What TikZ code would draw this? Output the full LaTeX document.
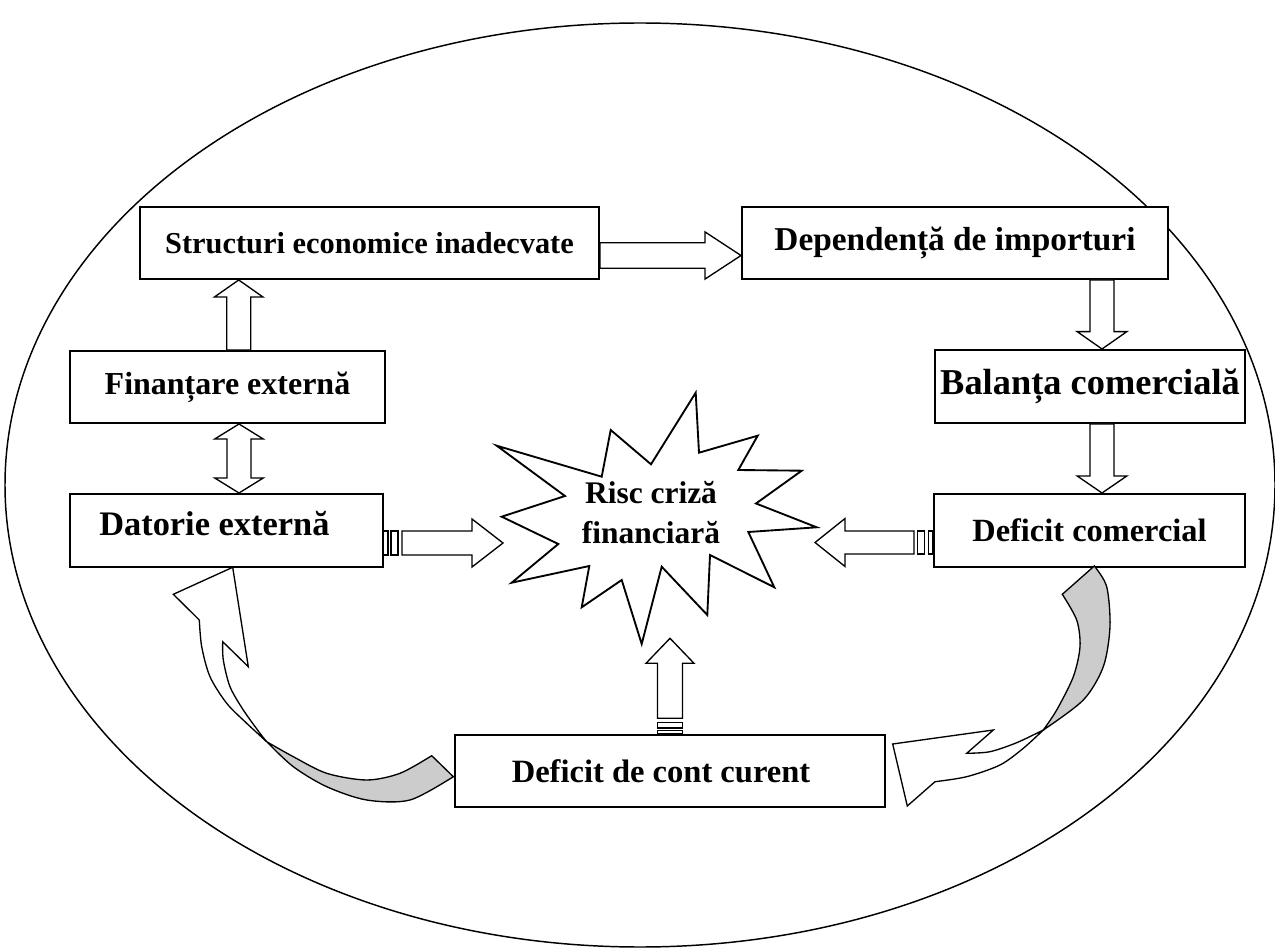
\documentclass[tikz,border=0pt]{standalone}
\usepackage{fontspec}
\setmainfont{Liberation Serif}
\usetikzlibrary{calc}
\tikzset{
  box/.style={draw, line width=1.5pt, fill=white, inner sep=0pt},
  lbl/.style={font=\fontsize{23.3}{30}\selectfont\bfseries, inner sep=0pt},
  fs/.style={font=\fontsize{#1}{30}\selectfont\bfseries},
  barrow/.style={draw, line width=1pt, fill=white, line join=miter},
  curvewhite/.style={draw, line width=1pt, fill=white, line join=miter},
  curvegray/.style={draw, line width=1pt, fill=backgray, line join=miter},
}
\definecolor{backgray}{RGB}{204,204,204}
% single block arrow: from #1 to #2 (tip), shaft half-width #3, head half-width #4, head length #5
\newcommand\blockarr[5]{%
  \coordinate (ba@c) at ($(#2)!#5!(#1)$);
  \path[barrow] ($(#1)!#3!90:(#2)$) -- ($(ba@c)!#3!90:(#2)$) -- ($(ba@c)!#4!90:(#2)$) -- (#2)
     -- ($(ba@c)!#4!-90:(#2)$) -- ($(ba@c)!#3!-90:(#2)$) -- ($(#1)!#3!-90:(#2)$) -- cycle;}
% double block arrow between #1 and #2
\newcommand\dblockarr[5]{%
  \coordinate (ba@a) at ($(#1)!#5!(#2)$);
  \coordinate (ba@b) at ($(#2)!#5!(#1)$);
  \path[barrow] (#1) -- ($(ba@a)!#4!90:(#2)$) -- ($(ba@a)!#3!90:(#2)$) -- ($(ba@b)!#3!90:(#2)$)
     -- ($(ba@b)!#4!90:(#2)$) -- (#2) -- ($(ba@b)!#4!-90:(#2)$) -- ($(ba@b)!#3!-90:(#2)$)
     -- ($(ba@a)!#3!-90:(#2)$) -- ($(ba@a)!#4!-90:(#2)$) -- cycle;}
\begin{document}
\begin{tikzpicture}[x=0.75pt,y=-0.75pt]
\useasboundingbox (0,0) rectangle (1275,948);
% outer ellipse
\draw[line width=1.1pt] (640,485) ellipse [x radius=635, y radius=462];

% boxes
\node[box, lbl, fs=22.8, minimum width=344.25pt, minimum height=54pt] (s) at (369.5,243) {Structuri economice inadecvate};
\node[box, lbl, fs=25, minimum width=319.5pt, minimum height=54pt] (d) at (955,243) {Dependență de importuri};
\node[box, lbl, fs=24, minimum width=236.25pt, minimum height=54pt] (f) at (227.5,387) {Finanțare externă};
\node[box, lbl, fs=27.3, minimum width=232.5pt, minimum height=54.75pt] (b) at (1090,386.5) {Balanța comercială};
\node[box, minimum width=234.75pt, minimum height=54.75pt] (dat) at (226.5,530.5) {};
\node[lbl, fs=25.8, anchor=west] (datl) at ($(dat.west)+(30,-7)$) {Datorie externă};
\node[box, lbl, fs=24.3, minimum width=233.25pt, minimum height=54.75pt] (dc) at (1089.5,530.5) {Deficit comercial};
\node[box, minimum width=322.5pt, minimum height=54pt] (cc) at (670,771) {};
\node[lbl, fs=24.4] (ccl) at ($(cc.center)+(-9,0)$) {Deficit de cont curent};

% explosion
\draw[line width=1.4pt, fill=white, line join=miter]
 (695.7,392.7) -- (699,452.7) -- (757.7,435.7) -- (738.3,470) -- (801.7,470.7) -- (756,503.5)
 -- (816.7,527.3) -- (748.3,532) -- (774.3,587.3) -- (710,555) -- (707.3,615) -- (661.7,566.7)
 -- (641.7,644) -- (621.7,580) -- (581.7,607.3) -- (589.3,566) -- (511.7,582.7) -- (558.3,544)
 -- (501.7,516.7) -- (565,496) -- (496.7,445.7) -- (601.7,476.7) -- (610.7,430) -- (651,464.3) -- cycle;
\node[lbl, fs=23.6, align=center] (risc) at (651,513) {Risc criză\\financiară};

% straight block arrows
\coordinate (a1s) at ($(s.east)+(0,12.5)$);
\coordinate (a1e) at (d.west |- a1s);
\blockarr{a1s}{a1e}{9.6pt}{17.7pt}{27pt}

\coordinate (a2s) at ($(f.north)+(11.2,0)$);
\coordinate (a2e) at (a2s |- s.south);
\blockarr{a2s}{a2e}{9pt}{18.2pt}{12.75pt}

\coordinate (a3s) at ($(f.south)+(11.5,0)$);
\coordinate (a3e) at (a3s |- dat.north);
\dblockarr{a3s}{a3e}{9pt}{18.2pt}{11.25pt}

\coordinate (a4s) at ($(d.south)+(147,0)$);
\coordinate (a4e) at (a4s |- b.north);
\blockarr{a4s}{a4e}{9pt}{18.6pt}{13pt}

\coordinate (a5s) at ($(b.south)+(12,0)$);
\coordinate (a5e) at (a5s |- dc.north);
\blockarr{a5s}{a5e}{9pt}{18.6pt}{12.75pt}

% striped arrows to the explosion
\coordinate (a6s) at ($(dat.east)+(18,12.5)$);
\coordinate (tipL) at (503,543);
\draw[line width=1pt, fill=white] ($(a6s)+(-11,-12)$) rectangle ($(a6s)+(-4,12)$);
\draw[line width=1pt, fill=white] ($(a6s)+(-19,-12)$) rectangle ($(a6s)+(-14,12)$);
\blockarr{a6s}{tipL}{9pt}{18pt}{23.25pt}

\coordinate (a7s) at ($(dc.west)+(-19,12)$);
\coordinate (tipR) at (815,542.5);
\draw[line width=1pt, fill=white] ($(a7s)+(3.3,-11.5)$) rectangle ($(a7s)+(10.7,11.5)$);
\draw[line width=1pt, fill=white] ($(a7s)+(14.7,-11.5)$) rectangle ($(a7s)+(19,11.5)$);
\blockarr{a7s}{tipR}{8.6pt}{18pt}{22.5pt}

\coordinate (a8s) at ($(cc.north)+(0,-15.7)$);
\coordinate (tipB) at (670,638.3);
\draw[line width=1pt, fill=white] ($(a8s)+(-12.5,4)$) rectangle ($(a8s)+(12.5,9.7)$);
\draw[line width=1pt, fill=white] ($(a8s)+(-12.5,12.4)$) rectangle ($(a8s)+(12.5,15.7)$);
\blockarr{a8s}{tipB}{9.4pt}{18pt}{18.75pt}

% curved arrow: Deficit de cont curent -> Datorie externa
\path[curvewhite] plot[smooth] coordinates {(266.7,741.7) (246.7,723.3) (226.7,703.3) (210,676.7) (201.7,646.7) (199.3,620)}
  -- (173.3,594.3) -- (232.7,567.3) -- (248.3,666.7) -- (222.7,641.7)
  -- plot[smooth] coordinates {(222.7,641.7) (223.3,660) (230,686.7) (243.3,710) (260,733.3) (266.7,741.7)} -- cycle;
\path[curvegray] plot[smooth] coordinates {(266.7,741.7) (293.3,756.7) (326.7,773.3) (366.7,780) (400,773.3) (431.7,755.7)}
  -- (453.3,776.7)
  -- plot[smooth] coordinates {(453.3,776.7) (410,800) (366.7,800) (326.7,786.7) (293.3,766.7) (266.7,741.7)} -- cycle;

% curved arrow: Deficit comercial -> Deficit de cont curent
\path[curvegray] plot[smooth] coordinates {(1094.3,566) (1106.7,586.7) (1110,626.7) (1103.3,666.7) (1083.3,700) (1043.3,730)}
  -- plot[smooth] coordinates {(1043.3,730) (1056.7,710) (1073.3,676.7) (1080,646.7) (1076.7,620) (1062.3,594.3)} -- cycle;
\path[curvewhite] plot[smooth] coordinates {(1043.3,730) (1016.7,742.7) (990,751.7) (966.7,753.3)}
  -- (993.3,730) -- (892.7,744) -- (907.3,806) -- (935,781.7)
  -- plot[smooth] coordinates {(935,781.7) (966.7,776.7) (1000,765) (1023.3,748.3) (1043.3,730)} -- cycle;
\end{tikzpicture}
\end{document}
